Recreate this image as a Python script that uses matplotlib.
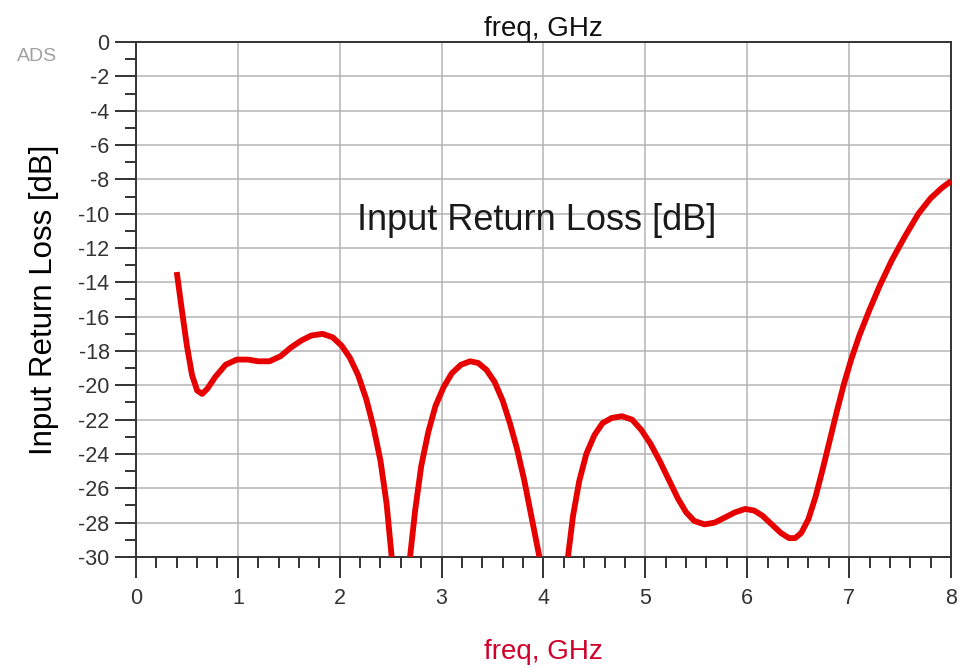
import numpy as np
import matplotlib.pyplot as plt
from matplotlib.ticker import MultipleLocator

plt.rcParams['font.family'] = ['Liberation Sans', 'DejaVu Sans']
plt.rcParams['axes.unicode_minus'] = False

# --- data (three visible segments, clipped at -30 dB) ---
freq_a = [0.40, 0.45, 0.50, 0.55, 0.60, 0.65, 0.70, 0.78, 0.88, 0.99, 1.10, 1.20, 1.31,
          1.42, 1.52, 1.62, 1.72, 1.83, 1.93, 2.02, 2.10, 2.18, 2.26, 2.33, 2.40, 2.46, 2.51]
s11_a = [-13.4, -15.6, -17.7, -19.4, -20.3, -20.5, -20.2, -19.5, -18.8, -18.5, -18.5, -18.6, -18.6,
         -18.3, -17.8, -17.4, -17.1, -17.0, -17.2, -17.7, -18.4, -19.4, -20.8, -22.4, -24.4, -26.9, -30.0]

freq_b = [2.69, 2.74, 2.80, 2.87, 2.94, 3.02, 3.10, 3.19, 3.28, 3.36, 3.44, 3.52, 3.60,
          3.67, 3.74, 3.81, 3.88, 3.96]
s11_b = [-30.0, -27.3, -24.7, -22.7, -21.2, -20.1, -19.3, -18.8, -18.6, -18.7, -19.1, -19.8, -20.9,
         -22.2, -23.7, -25.5, -27.6, -30.0]

freq_c = [4.24, 4.29, 4.35, 4.42, 4.50, 4.58, 4.67, 4.77, 4.87, 4.96, 5.05, 5.14, 5.23,
          5.32, 5.40, 5.48, 5.58, 5.68, 5.78, 5.88, 5.98, 6.07, 6.15, 6.24, 6.33, 6.41, 6.47,
          6.53, 6.60, 6.67, 6.74, 6.81, 6.88, 6.95, 7.02, 7.10, 7.20, 7.30, 7.42, 7.55, 7.68,
          7.80, 7.91, 8.00]
s11_c = [-30.0, -27.6, -25.6, -24.0, -22.9, -22.2, -21.9, -21.8, -22.0, -22.6, -23.4, -24.4, -25.5,
         -26.6, -27.4, -27.9, -28.1, -28.0, -27.7, -27.4, -27.2, -27.3, -27.6, -28.1, -28.6, -28.9, -28.9,
         -28.6, -27.8, -26.5, -24.9, -23.2, -21.5, -19.9, -18.5, -17.1, -15.6, -14.2, -12.7, -11.3, -10.0,
         -9.1, -8.5, -8.1]

x_major = np.arange(0, 9, 1)
y_major = np.arange(0, -31, -2)

fig = plt.figure(figsize=(9.61, 6.68), dpi=100)
ax = fig.add_axes([0.1415, 0.1662, 0.8481, 0.7709])

for fx, fy in [(freq_a, s11_a), (freq_b, s11_b), (freq_c, s11_c)]:
    ax.plot(fx, fy, color='#e60000', lw=4.2, solid_capstyle='butt', solid_joinstyle='round', zorder=3)

ax.set_xlim(0, 8)
ax.set_ylim(-30, 0)
ax.set_xticks(x_major)
ax.set_yticks(y_major)
ax.xaxis.set_minor_locator(MultipleLocator(0.2))
ax.yaxis.set_minor_locator(MultipleLocator(1))
ax.grid(True, which='major', color='#b4b4b4', lw=1.1)
ax.set_axisbelow(True)

for sp in ax.spines.values():
    sp.set_color('#333333')
    sp.set_linewidth(1.4)

ax.tick_params(which='major', direction='out', length=15, width=1.4, color='#333333',
               labelsize=15.5, labelcolor='#333333', pad=4)
ax.tick_params(which='minor', direction='out', length=8, width=1.4, color='#333333')
ax.tick_params(axis='x', which='major', pad=7)

ax.set_title('freq, GHz', fontsize=20, color='#111111', pad=3)
ax.set_xlabel('freq, GHz', fontsize=20, color='#d1002a', labelpad=22)
ax.set_ylabel('Input Return Loss [dB]', fontsize=22.5, color='black', labelpad=14)

ax.text(3.93, -10.4, 'Input Return Loss [dB]', fontsize=26, color='#1a1a1a', ha='center', va='center')
fig.text(0.0385, 0.916, 'ADS', fontsize=14, color='#a0a0a0', ha='center', va='center')

fig.savefig('out.png', dpi=100)
